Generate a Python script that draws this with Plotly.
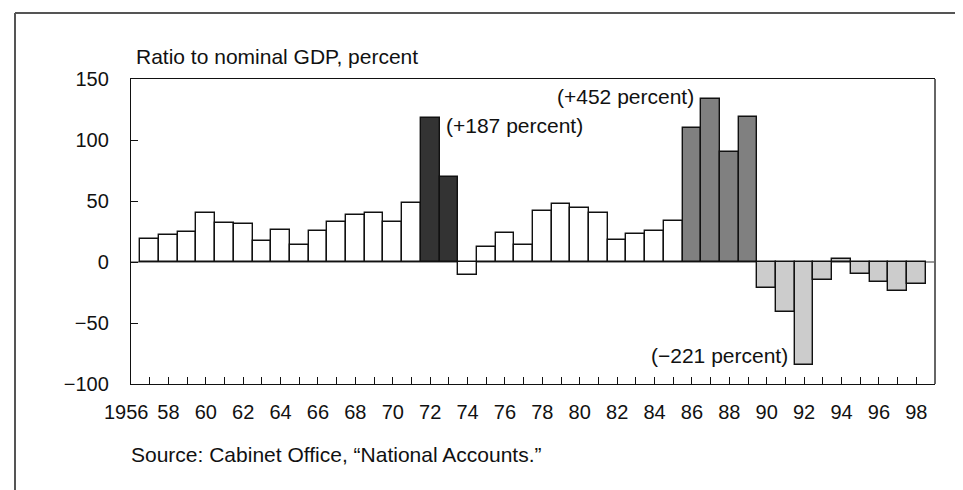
import plotly.graph_objects as go

years = list(range(1957, 1999))
values = [19, 22, 25, 40.5, 32.3, 31.5, 17, 26, 13.7, 25.5, 32.6, 38.6, 40, 32.6, 48.5,
          118, 70,
          -11, 12.6, 24, 14.3, 42.2, 47.7, 44.4, 40, 17.8, 23.3, 25.5, 33.7,
          109.6, 133.8, 90.2, 119.2,
          -21.4, -41.1, -84.1, -15.1, 2.7, -9.6, -16.4, -23.8, -18.4]

def bar_color(y):
    if 1972 <= y <= 1973:
        return "#333333"
    if 1986 <= y <= 1989:
        return "#808080"
    if y >= 1990:
        return "#cccccc"
    return "#ffffff"

colors = [bar_color(y) for y in years]

tick_years = list(range(1956, 1999))
tick_text = [""] + [("%02d" % (y % 100)) if y % 2 == 0 else "" for y in tick_years[1:]]
y_ticks = [-100, -50, 0, 50, 100, 150]

W, H = 963, 490
ML, MR, MT, MB = 123, 36, 71, 114
FONT = "Liberation Sans, Arial, Helvetica, sans-serif"
FS_TICK = 20
FS_TEXT = 21

fig = go.Figure(go.Bar(
    x=years, y=values, width=1,
    marker=dict(color=colors, line=dict(color="#111111", width=1.4)),
))

pw = W - ML - MR
ph = H - MT - MB
def px_x(p):
    return (p - ML) / pw
def px_y(p):
    return (H - MB - p) / ph

fig.update_layout(
    width=W, height=H,
    margin=dict(l=ML, r=MR, t=MT, b=MB),
    paper_bgcolor="white", plot_bgcolor="white",
    showlegend=False, bargap=0,
    font=dict(family=FONT, size=FS_TICK, color="#111111"),
    xaxis=dict(range=[1956, 1999], tickvals=tick_years, ticktext=tick_text,
               ticks="inside", ticklen=7, tickcolor="#111111", tickwidth=1,
               showline=True, linecolor="#111111", linewidth=1.4, mirror=True,
               showgrid=False, zeroline=False, tickfont=dict(size=FS_TICK),
               ticklabelstandoff=10),
    yaxis=dict(range=[-100, 150], tickvals=y_ticks,
               ticks="inside", ticklen=7, tickcolor="#111111", tickwidth=1,
               showline=True, linecolor="#111111", linewidth=1.4, mirror=False,
               showgrid=False, zeroline=True, zerolinecolor="#999999", zerolinewidth=1.5,
               tickfont=dict(size=FS_TICK), ticklabelstandoff=17),
    annotations=[
        dict(text="1956", xref="paper", yref="paper", x=px_x(118), y=px_y(404),
             xanchor="center", yanchor="middle", showarrow=False, font=dict(size=FS_TICK)),
        dict(text="Ratio to nominal GDP, percent", xref="paper", yref="paper",
             x=px_x(126), y=px_y(48), xanchor="left", yanchor="middle", showarrow=False,
             font=dict(size=FS_TEXT)),
        dict(text="Source: Cabinet Office, \u201cNational Accounts.\u201d", xref="paper", yref="paper",
             x=px_x(121), y=px_y(446), xanchor="left", yanchor="middle", showarrow=False,
             font=dict(size=FS_TEXT)),
        dict(text="(+187 percent)", x=1972.75, y=112, xanchor="left", yanchor="middle",
             showarrow=False, font=dict(size=FS_TEXT)),
        dict(text="(+452 percent)", x=1986.2, y=136, xanchor="right", yanchor="middle",
             showarrow=False, font=dict(size=FS_TEXT)),
        dict(text="(\u2212221 percent)", x=1991.25, y=-77, xanchor="right", yanchor="middle",
             showarrow=False, font=dict(size=FS_TEXT)),
    ],
    shapes=[
        dict(type="line", xref="paper", yref="paper", x0=1, x1=1, y0=0, y1=1,
             line=dict(color="#666666", width=2)),
        dict(type="line", xref="paper", yref="paper", x0=px_x(7), x1=px_x(W), y0=px_y(5), y1=px_y(5),
             line=dict(color="#555555", width=2)),
        dict(type="line", xref="paper", yref="paper", x0=px_x(7), x1=px_x(7), y0=px_y(5), y1=px_y(H),
             line=dict(color="#555555", width=2)),
    ],
)

fig.write_html("out.html")
